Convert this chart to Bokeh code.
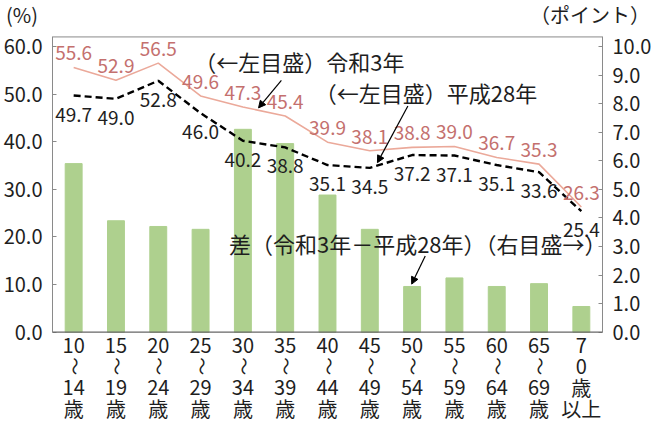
import math
from bokeh.plotting import figure
from bokeh.layouts import column
from bokeh.models import (ColumnDataSource, Range1d, LinearAxis, SingleIntervalTicker,
                          PrintfTickFormatter, Label, Arrow, NormalHead, Span, Div)
from bokeh.core.properties import value
from bokeh.embed import file_html
from bokeh.resources import INLINE

categories = ["10～14歳", "15～19歳", "20～24歳", "25～29歳", "30～34歳", "35～39歳",
              "40～44歳", "45～49歳", "50～54歳", "55～59歳", "60～64歳", "65～69歳", "70歳以上"]
tick_lines = [["10", "～", "14", "歳"], ["15", "～", "19", "歳"], ["20", "～", "24", "歳"],
              ["25", "～", "29", "歳"], ["30", "～", "34", "歳"], ["35", "～", "39", "歳"],
              ["40", "～", "44", "歳"], ["45", "～", "49", "歳"], ["50", "～", "54", "歳"],
              ["55", "～", "59", "歳"], ["60", "～", "64", "歳"], ["65", "～", "69", "歳"],
              ["7", "0", "歳", "以上"]]
reiwa3 = [55.6, 52.9, 56.5, 49.6, 47.3, 45.4, 39.9, 38.1, 38.8, 39.0, 36.7, 35.3, 26.3]
heisei28 = [49.7, 49.0, 52.8, 46.0, 40.2, 38.8, 35.1, 34.5, 37.2, 37.1, 35.1, 33.6, 25.4]
diff = [5.9, 3.9, 3.7, 3.6, 7.1, 6.6, 4.8, 3.6, 1.6, 1.9, 1.6, 1.7, 0.9]
left_unit = "(%)"
right_unit = "（ポイント）"

FONT = "Noto Sans CJK JP"
SALMON_LINE = "#eba99a"
SALMON_TEXT = "#c4706e"
GREEN = "#aed08e"
INK = "#1e1e1e"
FRAME = "#8a8a8a"

W, H_TOP, H_FIG = 654, 29, 397
Y_TOP = 62.3
Y_BOTTOM = -19.8   # space below the axis for the category labels

src = ColumnDataSource(dict(
    x=categories, r3=reiwa3, h28=heisei28, diff=diff,
    r3t=[f"{v:.1f}" for v in reiwa3], h28t=[f"{v:.1f}" for v in heisei28]))

p = figure(width=W, height=H_FIG, x_range=categories, y_range=Range1d(Y_BOTTOM, Y_TOP),
           output_backend="svg", toolbar_location=None,
           min_border_left=50, min_border_right=48, min_border_top=6, min_border_bottom=0)
p.extra_y_ranges = {"r": Range1d(Y_BOTTOM / 6, Y_TOP / 6)}

p.grid.visible = False
p.outline_line_color = None
p.background_fill_color = "white"
p.border_fill_color = "white"
p.xaxis.visible = False

def style_y(ax):
    ax.formatter = PrintfTickFormatter(format="%.1f")
    ax.major_label_text_font = FONT
    ax.major_label_text_font_size = "20px"
    ax.major_label_text_color = INK
    ax.axis_line_color = FRAME
    ax.major_tick_line_color = FRAME
    ax.major_tick_in = 4
    ax.major_tick_out = 0
    ax.minor_tick_line_color = None
    ax.major_label_standoff = 6

ax = p.yaxis[0]
ax.ticker = SingleIntervalTicker(interval=10)
ax.bounds = (0, 62)
style_y(ax)

rax = LinearAxis(y_range_name="r", ticker=SingleIntervalTicker(interval=1), bounds=(0, 62 / 6))
style_y(rax)
p.add_layout(rax, "right")

# top border and x-axis line
p.add_layout(Span(location=62, dimension="width", line_color=FRAME, line_width=1))
p.add_layout(Span(location=0, dimension="width", line_color="#666666", line_width=1.2))

# bars (right axis)
p.vbar(x="x", top="diff", width=0.4, source=src, y_range_name="r",
       fill_color=GREEN, line_color=GREEN)

# lines
p.line(x="x", y="r3", source=src, line_color=SALMON_LINE, line_width=1.6)
p.line(x="x", y="h28", source=src, line_color="black", line_width=2.4, line_dash="7 4")

# value labels
p.text(x="x", y="r3", text="r3t", source=src, text_align="center", text_baseline="middle",
       y_offset=-14, text_font=value(FONT), text_font_size="19px", text_color=SALMON_TEXT)
p.text(x="x", y="h28", text="h28t", source=src, text_align="center", text_baseline="middle",
       y_offset=19, text_font=value(FONT), text_font_size="19px", text_color=INK)

# multi-line category labels below the axis
cx, ct, cdy, cang, csz = [], [], [], [], []
for cat, lines in zip(categories, tick_lines):
    for k, t in enumerate(lines):
        wave = (t == "～")
        cx.append(cat)
        ct.append(t)
        cdy.append(13 + 21 * k)
        cang.append(math.pi / 2 if wave else 0.0)
        csz.append("18px" if wave else "20px")
csrc = ColumnDataSource(dict(x=cx, y=[0] * len(cx), text=ct, dy=cdy, ang=cang, sz=csz))
p.text(x="x", y="y", text="text", y_offset="dy", angle="ang", text_font_size="sz",
       source=csrc, text_align="center", text_baseline="middle",
       text_font=value(FONT), text_color=INK)

# annotations
def note(x, y, txt):
    p.add_layout(Label(x=x, y=y, text=txt, text_font=FONT, text_font_size="22px",
                       text_color=INK, text_align="left", text_baseline="middle"))

note(3.35, 57.0, "（←左目盛）令和3年")
note(6.2, 50.5, "（←左目盛）平成28年")
note(4.17, 18.8, "差（令和3年－平成28年）（右目盛→）")

for xs, ys, xe, ye in [(5.41, 52.9, 4.87, 47.1), (8.40, 47.5, 7.68, 35.6), (8.81, 16.0, 8.49, 10.1)]:
    p.add_layout(Arrow(end=NormalHead(size=7, fill_color="black", line_color="black"),
                       x_start=xs, y_start=ys, x_end=xe, y_end=ye,
                       line_color="black", line_width=1.2))

units = Div(text=(f'<div style="display:flex;justify-content:space-between;width:{W - 4}px;'
                  f'padding-left:6px;font-family:\'{FONT}\';font-size:20px;line-height:{H_TOP}px;'
                  f'color:{INK};"><span>{left_unit}</span><span>{right_unit}</span></div>'),
            width=W, height=H_TOP, margin=0)

layout = column(units, p, spacing=0)
open("out.html", "w").write(file_html(layout, INLINE))
